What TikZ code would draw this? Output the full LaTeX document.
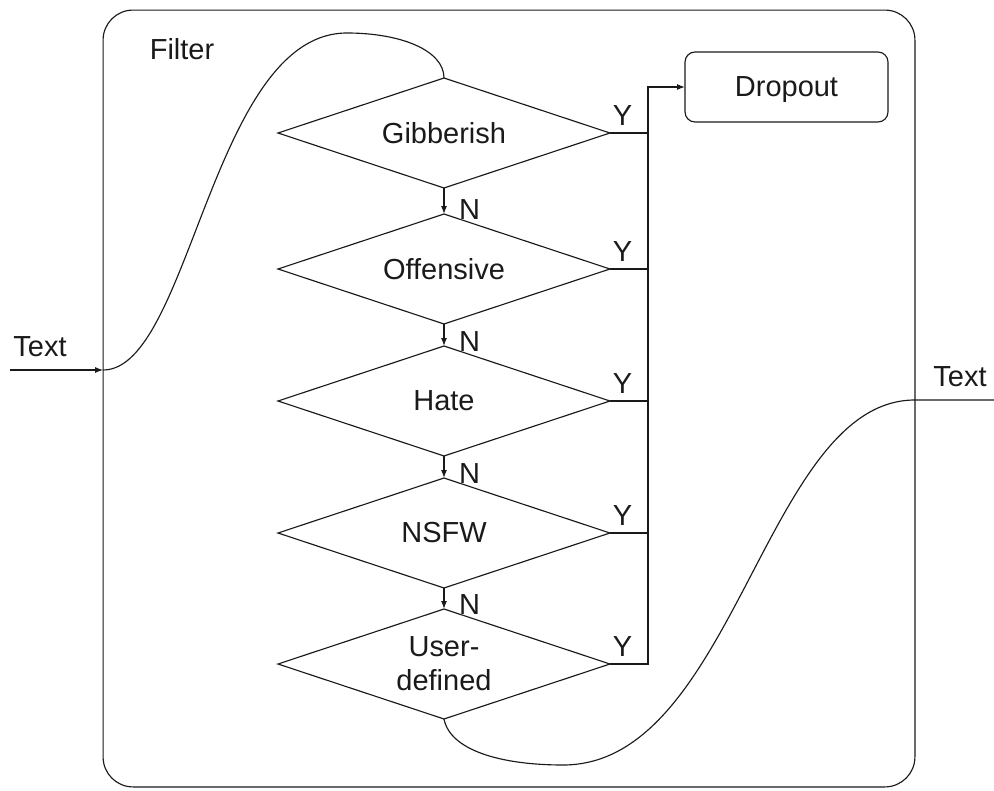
\documentclass[tikz,border=0pt]{standalone}
\usepackage{fontspec}
\setmainfont{Liberation Sans}
\usetikzlibrary{arrows.meta,shapes.geometric}
\definecolor{fcInk}{HTML}{1A1A1A}

\begin{document}
\begin{tikzpicture}[
  x=0.02cm,y=-0.02cm,
  font=\fontsize{16.5}{19.5}\selectfont,
  every node/.style={text=fcInk,align=center,outer sep=0pt},
  wire/.style={draw=fcInk,line width=0.65pt},
  flow/.style={wire,-{Latex[length=1.6mm,width=1.2mm]}},
  test/.style={diamond,aspect=3,draw=fcInk,line width=0.65pt,inner sep=0pt,minimum width=6.64cm,minimum height=2.2cm},
  frame/.style={draw=fcInk,line width=0.65pt,rounded corners=0.6cm,minimum width=16.24cm,minimum height=15.54cm},
  drop/.style={draw=fcInk,line width=0.65pt,rounded corners=0.2cm,minimum width=4.06cm,minimum height=1.4cm,text depth=0pt},
  nlab/.style={anchor=west,inner sep=0pt,xshift=0.3cm,yshift=0.08cm},
  ylab/.style={anchor=south west,inner sep=0pt,xshift=0.06cm,yshift=0.16cm}
]
\path[use as bounding box] (0,0) rectangle (994,791);
% filter box
\node[frame] (filter) at (509,398.5) {};
\node (filterlab) at (182,49) {Filter};
% checks
\node[test] (gib) at (444,133) {Gibberish};
\node[test] (off) at (444,269) {Offensive};
\node[test] (hate) at (444,401) {Hate};
\node[test] (nsfw) at (444,533) {NSFW};
\node[test] (usr) at (444,664) {User-\\defined};
\draw[flow] (gib.south) -- (off.north) node[nlab] {N};
\draw[flow] (off.south) -- (hate.north) node[nlab] {N};
\draw[flow] (hate.south) -- (nsfw.north) node[nlab] {N};
\draw[flow] (nsfw.south) -- (usr.north) node[nlab] {N};
% dropout
\node[drop] (drop) at (786.5,87) {Dropout};
\coordinate (bus) at (648,87);
\foreach \t in {gib,off,hate,nsfw}
  \draw[wire] (\t.east) node[ylab] {Y} -- (\t.east -| bus);
\draw[flow] (usr.east) node[ylab] {Y} -- (usr.east -| bus) |- (drop.west);
% in and out
\coordinate (src) at (10,370);
\coordinate (snk) at (994,400);
\node (inlab) at (40,347) {Text};
\node (outlab) at (960,377) {Text};
\draw[flow] (src) -- (src -| filter.west);
\draw[wire] (src -| filter.west) .. controls (190,370) and (212,33) .. (347,33)
  .. controls (400,33) and (444,50) .. (gib.north);
\draw[wire] (usr.south) .. controls (450,750) and (500,765) .. (563,765)
  .. controls (735,765) and (765,400) .. (snk -| filter.east) -- (snk);
\end{tikzpicture}
\end{document}
